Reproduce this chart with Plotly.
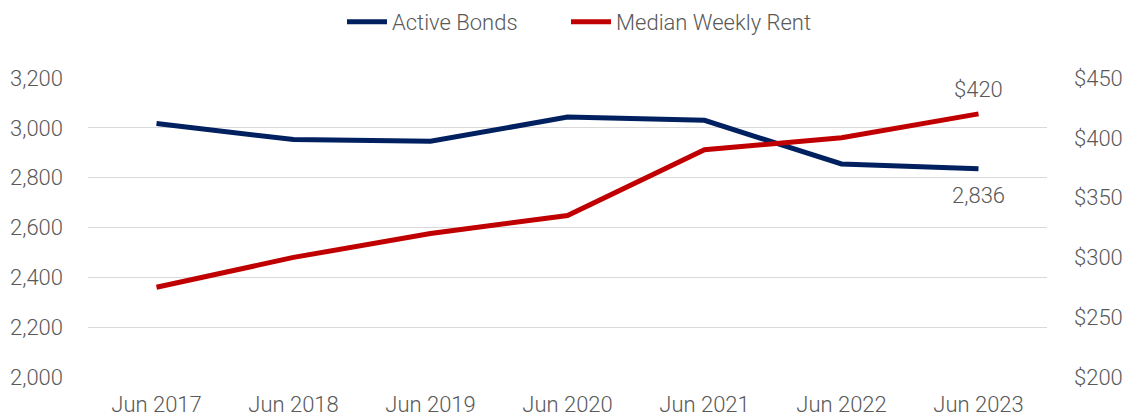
import plotly.graph_objects as go

categories = ["Jun 2017", "Jun 2018", "Jun 2019", "Jun 2020", "Jun 2021", "Jun 2022", "Jun 2023"]
active_bonds = [3017, 2953, 2946, 3043, 3030, 2855, 2836]
median_rent = [275, 300, 320, 335, 390, 400, 420]

left_ticks = [2000, 2200, 2400, 2600, 2800, 3000, 3200]
right_ticks = [200, 250, 300, 350, 400, 450]
right_labels = ["$" + str(v) for v in right_ticks]

FONT = "Roboto Light, Roboto"
GREY = "#595959"
FS = 22
tf = dict(family=FONT, size=FS, color=GREY, weight=300)

W = 1122

fig = go.Figure()
fig.add_trace(go.Scatter(x=categories, y=active_bonds, name="Active Bonds", mode="lines",
                         line=dict(color="#002060", width=5), yaxis="y", legend="legend"))
fig.add_trace(go.Scatter(x=categories, y=median_rent, name="Median Weekly Rent", mode="lines",
                         line=dict(color="#C00000", width=5), yaxis="y2", legend="legend2"))

fig.add_annotation(x=categories[-1], y=median_rent[-1], yref="y2", text="$" + str(median_rent[-1]),
                   showarrow=False, yshift=24, font=tf)
fig.add_annotation(x=categories[-1], y=active_bonds[-1], yref="y", text=f"{active_bonds[-1]:,}",
                   showarrow=False, yshift=-27, font=tf)

leg_common = dict(orientation="h", y=0.966, yref="container", yanchor="middle", xref="container",
                  xanchor="left", font=tf, itemwidth=40, bgcolor="rgba(0,0,0,0)")

fig.update_layout(
    width=W, height=412,
    margin=dict(l=80, r=83, t=69.5, b=42.5, autoexpand=False),
    plot_bgcolor="white", paper_bgcolor="white",
    font=tf,
    showlegend=True,
    legend=dict(x=334 / W, **leg_common),
    legend2=dict(x=558 / W, **leg_common),
    xaxis=dict(type="category", range=[-0.5, 6.5], showgrid=False, showline=False, ticks="",
               ticklabelstandoff=12, automargin=False, tickfont=tf),
    yaxis=dict(range=[2000, 3200], tickvals=left_ticks, tickformat=",", showgrid=True,
               gridcolor="#d9d9d9", gridwidth=1, zeroline=False, showline=False, ticks="",
               ticklabelstandoff=24, automargin=False, tickfont=tf),
    yaxis2=dict(range=[200, 450], tickvals=right_ticks, ticktext=right_labels, overlaying="y", side="right",
                showgrid=False, zeroline=False, showline=False, ticks="", ticklabelstandoff=26,
                automargin=False, tickfont=tf),
)

fig.write_html("out.html")
